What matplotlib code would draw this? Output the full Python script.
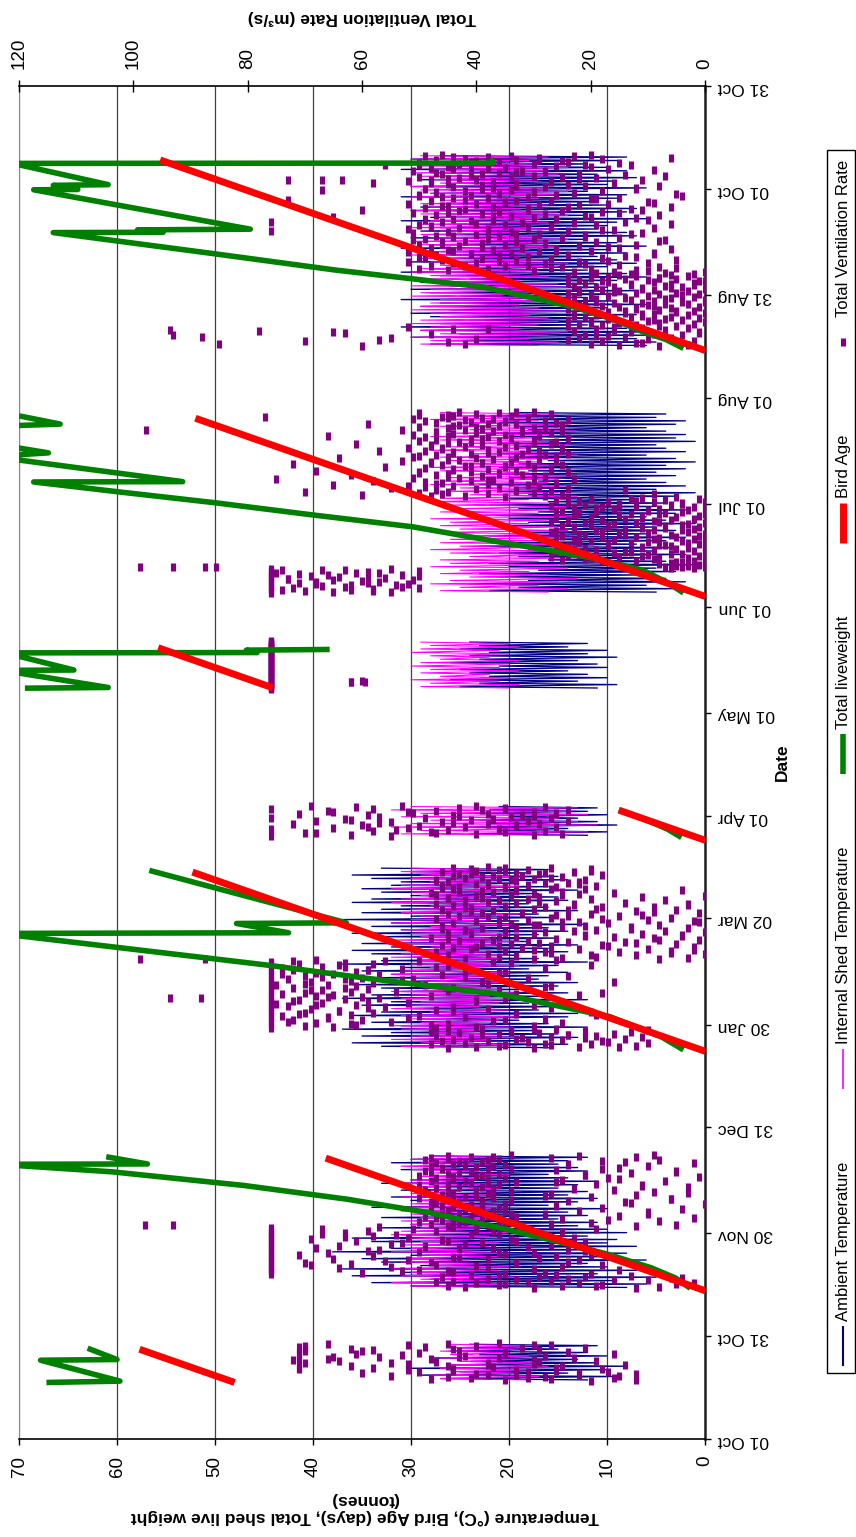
import numpy as np
import matplotlib
matplotlib.use("Agg")
import matplotlib.pyplot as plt
from matplotlib.patches import Rectangle
from matplotlib.lines import Line2D

plt.rcParams['font.family'] = ['Liberation Sans', 'DejaVu Sans']

# day 0 = 01 Oct, day 395 = 31 Oct of the following year
date_ticks = [0, 30, 60, 91, 121, 152, 182, 212, 243, 273, 304, 334, 365, 395]
date_labels = ['01 Oct', '31 Oct', '30 Nov', '31 Dec', '30 Jan', '02 Mar', '01 Apr',
               '01 May', '01 Jun', '01 Jul', '01 Aug', '31 Aug', '01 Oct', '31 Oct']

# first logged day of each flock
flock_start = [17, 44, 114, 176, 219, 247, 319]

# daily min / max temperatures (deg C), one list per flock
ambient_min = [
    [12, 9, 14, 10, 8, 11, 13, 10, 12, 15, 11],
    [8, 6, 9, 5, 11, 7, 10, 12, 6, 9, 8, 11, 7, 10, 9, 12, 8, 10, 13, 11, 15, 12, 14, 10, 16, 13,
     11, 14, 12, 15, 13, 11, 14, 16, 12, 13, 15, 14, 12],
    [16, 14, 18, 13, 15, 17, 12, 16, 19, 14, 13, 17, 15, 18, 12, 16, 14, 19, 15, 13, 17, 16, 14, 18,
     15, 12, 17, 19, 14, 16, 13, 18, 15, 17, 14, 16, 12, 19, 15, 17, 13, 16, 18, 14, 15, 17, 13, 16,
     19, 14, 15, 18, 16],
    [12, 10, 14, 9, 11, 13, 10, 12, 11],
    [11, 9, 13, 10, 12, 14, 10, 11, 13, 9, 12, 10, 14, 12],
    [5, 3, 6, 2, 4, 7, 3, 5, 1, 4, 6, 2, 5, 3, 7, 4, 2, 6, 3, 5, 1, 4, 6, 3, 2, 5, 4, 7, 3, 1, 5, 2,
     4, 6, 3, 5, 2, 4, 1, 3, 6, 2, 4, 5, 1, 3, 2, 4, 6, 3, 2, 5, 4],
    [6, 5, 7, 6, 5, 8, 12, 8, 9, 7, 11, 10, 6, 9, 12, 8, 7, 10, 11, 9, 6, 8, 12, 10, 7, 9, 11, 8,
     10, 6, 9, 12, 7, 8, 11, 10, 9, 6, 12, 8, 7, 10, 11, 9, 8, 12, 6, 10, 9, 7, 11, 8, 10, 12, 9, 8],
]
ambient_max = [
    [27, 29, 25, 30, 26, 24, 28, 23, 26, 25, 24],
    [30, 34, 28, 36, 31, 37, 29, 33, 35, 30, 38, 32, 28, 34, 36, 31, 29, 33, 30, 27, 33, 29, 31,
     34, 28, 30, 32, 27, 31, 29, 33, 30, 28, 26, 31, 29, 32, 30, 28],
    [33, 36, 30, 35, 32, 37, 31, 34, 29, 36, 33, 30, 35, 32, 37, 34, 31, 33, 36, 30, 34, 32, 35,
     31, 37, 33, 30, 34, 36, 32, 35, 29, 33, 36, 31, 34, 32, 37, 30, 35, 33, 31, 36, 34, 30, 33,
     35, 32, 31, 34, 36, 30, 33],
    [24, 21, 25, 22, 23, 20, 24, 22, 21],
    [25, 23, 26, 22, 24, 25, 21, 26, 23, 24, 22, 25, 23, 24],
    [22, 19, 24, 18, 21, 23, 17, 20, 22, 16, 19, 21, 18, 23, 20, 17, 22, 19, 15, 21, 18, 20, 23,
     17, 19, 22, 16, 20, 18, 21, 19, 23, 17, 20, 22, 18, 21, 19, 16, 20, 22, 18, 19, 21, 17, 20,
     23, 18, 19, 21, 20, 22, 19],
    [28, 26, 30, 25, 29, 31, 27, 24, 28, 30, 26, 29, 27, 31, 25, 28, 30, 26, 29, 24, 27, 31, 28,
     25, 30, 26, 29, 27, 31, 28, 24, 30, 26, 29, 27, 25, 31, 28, 26, 30, 29, 27, 24, 31, 28, 26,
     30, 25, 29, 27, 28, 31, 26, 29, 30, 27],
]
internal_min = [
    [18, 17, 19, 18, 16, 17, 19, 18, 20, 19, 18],
    [21, 20, 22, 19, 23, 21, 20, 22, 24, 21, 20, 23, 22, 21, 24, 22, 20, 23, 22, 24, 21, 23, 25,
     22, 21, 24, 23, 22, 25, 21, 23, 24, 22, 20, 23, 25, 22, 24, 21],
    [21, 20, 22, 19, 21, 23, 20, 22, 21, 19, 22, 20, 23, 21, 20, 22, 19, 21, 23, 20, 22, 21, 20,
     23, 19, 22, 21, 20, 22, 23, 21, 19, 22, 20, 21, 23, 20, 22, 21, 19, 23, 21, 20, 22, 21, 23,
     20, 19, 22, 21, 20, 23, 21],
    [14, 12, 16, 11, 13, 15, 12, 14, 13],
    [20, 19, 21, 20, 22, 19, 21, 20, 19, 22, 20, 21, 19, 20],
    [16, 14, 17, 15, 13, 16, 18, 14, 15, 17, 13, 16, 14, 18, 15, 17, 13, 16, 14, 15, 18, 16, 13,
     17, 15, 14, 16, 18, 13, 15, 17, 14, 16, 15, 13, 18, 16, 14, 17, 15, 13, 16, 18, 14, 15, 17,
     16, 13, 15, 14, 17, 16, 15],
    [17, 15, 18, 16, 14, 19, 17, 15, 16, 18, 14, 17, 19, 15, 16, 18, 17, 14, 15, 19, 16, 18, 17,
     15, 14, 16, 19, 17, 18, 15, 16, 14, 17, 19, 15, 18, 16, 17, 14, 15, 19, 16, 18, 17, 15, 14,
     16, 19, 17, 18, 15, 16, 14, 17, 18, 16],
]
internal_max = [
    [27, 28, 26, 27, 26, 25, 27, 26, 27, 26, 26],
    [30, 32, 29, 31, 30, 32, 28, 31, 30, 29, 32, 30, 31, 29, 30, 32, 31, 29, 30, 31, 29, 30, 28,
     31, 30, 29, 31, 30, 28, 29, 31, 30, 29, 28, 30, 31, 29, 30, 28],
    [31, 29, 32, 30, 28, 31, 32, 29, 30, 31, 28, 32, 30, 29, 31, 30, 32, 28, 31, 29, 30, 32, 31,
     28, 30, 29, 32, 31, 30, 28, 31, 32, 29, 30, 31, 28, 32, 30, 29, 31, 30, 28, 32, 31, 29, 30,
     32, 31, 28, 30, 29, 31, 30],
    [31, 29, 32, 30, 28, 31, 29, 32, 30],
    [29, 28, 30, 27, 29, 28, 30, 29, 27, 28, 30, 29, 28, 29],
    [27, 25, 28, 26, 24, 27, 25, 28, 26, 27, 24, 26, 28, 25, 27, 26, 24, 28, 25, 27, 26, 28, 24,
     27, 25, 26, 28, 27, 24, 26, 25, 28, 27, 26, 24, 27, 28, 25, 26, 27, 24, 28, 26, 25, 27, 28,
     26, 24, 27, 25, 28, 26, 27],
    [29, 28, 30, 27, 29, 28, 30, 29, 27, 28, 30, 29, 28, 27, 30, 29, 28, 30, 27, 29, 28, 30, 29,
     27, 28, 29, 30, 28, 27, 29, 30, 28, 29, 27, 30, 29, 28, 27, 29, 30, 28, 29, 27, 30, 28, 29,
     30, 27, 28, 29, 30, 28, 29, 27, 30, 29],
]

# ventilation rate (m3/s), eight readings per day (3-hourly), one string per flock;
# "v*n" means the reading v repeated n times
vent_readings = [
    # flock 1
    "20 35 12 48 27 41 16 31 28 45 15 55 33 22 38 12 40 22 60 31 17 50 26 44 "
    "33 52 18 71 44 26 58 37 71 45 25 62 38 14 52 30 70 38 55 29 47 19 64 71 "
    "72 30 48 66 23 36 57 43 65 42 28 71 53 16 35 61 71 50 35 24 60 43 70 29 "
    "58 44 62 70 32 21 49 71 70 40 30 52 27 45 66 36",
    # flock 2
    "30 12 42 8 25 45 19 36 18 35 5 40 22 2 31 47 27 44 10 33 16 38 24 6 "
    "4 29 46 21 36 13 41 26 "
    "76 35 20 60 28 76 44 53 76 45 15 50 76 30 64 38 76 25 55 40 76 18 47 69 "
    "76 62 33 70 48 76 24 56 76 22 52 38 76 65 43 29 76 44 26 58 76 20 71 35 "
    "76 36 66 30 76 50 21 59 76 57 24 43 76 68 37 49 76 31 49 64 76 27 55 42 "
    "76 53 39 21 76 61 45 33 76 46 69 34 76 23 52 63 76 28 58 41 76 54 36 67 "
    "76 63 37 25 76 47 59 40 76 19 51 67 76 32 44 57 "
    "45 12 38 40 5 48 27 43 35 20 42 50 8 36 46 17 44 25 39 47 2 41 33 49 "
    "38 15 46 43 28 34 10 45 49 10 40 37 22 45 35 48 42 4 48 36 18 44 39 26 "
    "46 26 39 41 0 35 47 13 48 14 43 39 24 47 34 6 44 6 37 50 20 42 46 28 "
    "40 12 46 38 27 44 49 3 45 9 40 34 16 49 37 23 37 23 47 43 3 39 45 11 "
    "50 11 36 45 19 41 38 26 33 7 48 42 25 38 44 15 47 17 35 44 1 50 40 21 "
    "39 21 45 36 13 43 48 5 41 5 49 38 26 34 46 18 46 15 40 48 10 37 42 24 "
    "35 24 44 42 2 47 39 14 43 18 38 49 8 36 45 27 48 12 41 37 22 45 34 9",
    # flock 3
    "30 45 15 22 40 12 36 27 35 48 20 28 10 42 31 17 38 18 46 25 44 14 33 21 "
    "32 41 11 27 47 19 39 24 24 36 16 43 29 13 48 34 45 21 34 10 39 26 30 47 "
    "76 65 40 70 30 76 61 48 62 45 76 25 68 55 73 37 76 35 72 60 76 28 66 52 "
    "66 42 76 74 50 62 19 71 76 33 58 70 76 20 64 44 64 47 76 38 69 76 59 27 "
    "56 44 76 73 30 61 68 75 76 52 67 25 76 59 40 72 71 40 76 63 35 76 57 66 "
    "60 48 68 76 22 65 74 33 76 70 18 62 54 76 45 69 67 36 76 59 44 72 63 28 "
    "76 61 27 75 49 66 38 70 58 76 39 69 16 76 62 53 76 63 51 73 31 60 67 42 "
    "70 24 76 57 46 65 74 36 76 68 35 61 76 42 59 72 59 76 53 74 28 67 63 47 "
    "76 45 64 20 71 76 58 34 63 37 76 56 72 50 68 26 "
    "30 8 42 25 3 36 19 47 33 12 45 20 0 38 27 6 28 15 47 35 6 30 2 41 "
    "22 10 44 32 2 40 17 36 27 18 46 34 5 29 12 39 24 14 43 31 1 37 8 45 "
    "26 9 48 36 16 33 4 21 21 4 41 30 11 45 35 0 28 7 35 23 19 42 46 13 "
    "33 3 39 25 13 46 21 30 29 8 36 34 17 44 25 1 22 2 40 31 10 47 36 18 "
    "27 6 38 35 15 43 24 11 26 20 45 32 1 39 41 9 37 12 24 46 5 30 19 42 "
    "41 18 28 9 35 44 23 3 23 3 47 33 14 38 29 42 36 26 42 7 31 20 45 39 "
    "45 11 29 40 0 34 25 47 30 22 48 16 37 25 43 33 39 4 33 44 21 27 46 35 "
    "26 43 35 19 46 31 38 22 40 24 38 28 45 22 33 47 34 47 21 36 30 42 27 39 "
    "25 39 44 32 18 37 41 29 43 28 33 46 23 40 35 20 31 36 20 41 27 35 44 38",
    # flock 4
    "76 55 30 62 40 25 47 68 70 48 35 58 28 45 36 54 76 36 52 65 42 26 59 33 "
    "50 33 60 72 38 29 44 57 55 46 31 68 24 41 62 37 63 27 49 76 34 57 43 30 "
    "44 59 32 71 38 26 51 65 52 30 66 47 24 39 58 35 76 43 35 61 28 53 40 69",
    # flock 5
    "76*16 62 60 76*94",
    # flock 6
    "76 65 55 76 70 58 62 74 76 58 50 76 72 63 53 67 76 62 54 76 52 68 71 59 "
    "76 68 57 76 60 51 65 73 76 73 56 76 64 59 50 69 76 53 66 76 71 61 57 75 "
    "76 59 50 76 67 74 63 55 76 6 2 4 0 7 3 5 5 1 8 3 0 6 2 4 "
    "5 18 2 12 25 0 9 21 8 20 3 15 27 1 11 24 10 22 4 6 16 0 26 13 "
    "14 26 2 9 19 5 23 0 3 21 0 11 24 6 17 8 7 17 1 13 27 3 22 10 "
    "4 20 0 16 23 2 9 26 8 18 5 12 25 1 21 14 6 22 0 10 15 3 27 18 "
    "19 26 4 9 14 2 23 7 11 23 1 17 7 25 4 20 3 16 21 0 12 27 8 24 "
    "9 24 6 18 2 14 26 11 20 5 26 11 1 15 23 8 13 0 22 7 19 4 26 10 "
    "25 10 3 16 8 23 0 19 2 18 12 27 6 21 15 4 15 4 24 9 0 17 22 12 "
    "7 26 13 1 20 11 24 5 "
    "35 48 28 42 60 25 9 46 38 50 30 45 70 27 33 14 33 47 24 40 55 36 49 29 "
    "29 52 44 31 65 38 26 47 46 26 49 34 58 41 30 38 37 75 23 43 51 30 45 28 "
    "28 39 62 47 32 45 36 50 36 24 50 41 68 33 44 27 27 44 38 49 30 56 35 41 "
    "35 42 25 46 72 31 48 39 39 48 34 26 53 43 29 45 37 29 64 40 45 33 51 26 "
    "50 28 47 32 41 24 38 44 44 36 57 29 49 38 25 46 31 46 25 52 35 42 48 33 "
    "48 33 39 27 61 45 30 41 26 43 50 36 30 47 39 24 41 34 24 49 38 66 45 29 "
    "35 51 29 44 27 40 32 47 47 25 37 53 32 42 28 39 30 45 40 28 50 36 44 25 "
    "43 38 59 33 47 26 41 35 28 49 35 42 24 51 37 45 39 31 46 77 34 44 27 50 "
    "45 27 40 36 50 30 43 33",
    # flock 7
    "8 60 15 3 85 20 42 11 12 45 5 70 18 2 24 57 10 40 22 6 55 14 88 19 "
    "17 93 4 21 48 9 63 1 1 65 13 23 78 7 16 44 19 38 3 11 52 16 24 8 "
    "5 18 12 2 22 8 15 20 15 0 20 10 24 4 9 17 7 16 1 13 21 6 23 11 "
    "3 19 11 9 23 0 14 5 17 5 14 2 20 8 24 12 12 24 6 15 1 18 9 21 "
    "10 22 3 7 16 11 0 19 4 21 9 13 0 19 24 7 14 6 23 2 17 10 20 4 "
    "20 8 1 24 12 5 16 22 3 15 22 9 18 0 11 6 11 4 19 16 7 23 2 13 "
    "6 21 13 2 24 9 17 0 18 1 10 22 5 14 20 8 8 17 24 3 12 20 6 15 "
    "2 13 7 19 0 16 23 10 "
    "30 45 12 38 20 50 5 27 25 8 42 35 48 15 31 21 28 40 10 44 22 52 36 17 "
    "33 5 46 27 39 18 49 12 50 31 14 36 47 24 9 41 41 9 34 29 52 20 44 26 "
    "45 37 6 26 48 32 15 39 17 43 22 50 35 12 28 46 39 28 46 19 33 42 8 51 "
    "7 49 30 38 25 15 44 21 44 36 47 21 40 29 13 33 11 51 34 45 24 76 38 18 "
    "16 38 52 31 9 43 27 48 27 48 35 19 50 40 6 32 23 46 32 14 41 37 49 10 "
    "26 49 44 12 30 65 20 37 34 21 47 8 39 28 45 15 51 18 36 43 25 60 31 11 "
    "13 42 31 49 6 37 24 46 45 29 22 40 52 17 35 9 35 10 48 27 33 73 42 19 "
    "20 44 38 15 46 31 4 50 41 26 50 5 36 23 47 30 30 47 18 42 67 34 12 39 "
    "49 12 37 28 44 21 33 8 24 39 45 33 58 16 48 27 37 52 27 48 11 40 22 45 "
    "43 19 34 25 50 30 7 41 14 46 39 22 36 47 28 33 32 28 51 41 9 44 17 38 "
    "48 35 20 45 26 38 50 13 21 43 30 50 15 36 41 24 40 25 47 33 42 18 29 6 "
    "29 38 44 23 49 34 20 46",
]

# isolated ventilation readings outside the main clouds
vent_extra_day = [62.5, 62.5, 128.8, 128.8, 140.0, 140.0, 221.0, 221.0, 254.6, 254.6, 254.6,
                  254.6, 294.6, 323.8, 355.3, 367.6, 367.6, 367.6, 372.0]
vent_extra = [98, 93, 93.6, 88.2, 98.8, 87.5, 62, 59.5, 98.8, 93, 87.5, 85.5, 97.8, 93.6, 76,
              73, 67, 63.5, 56]

# bird age (days): first and last logged point of each flock
age_day = [(16.5, 26.2), (43.3, 82.0), (113.2, 165.5), (174.8, 183.6), (219.3, 231.0),
           (246.0, 298.0), (317.8, 373.4)]
age_value = [(48.0, 57.7), (0.0, 38.7), (0.0, 52.3), (0.0, 8.8), (44.1, 55.8), (0.0, 52.0),
             (0.0, 55.6)]

# total shed live weight (tonnes), drops are thinning / depopulation
liveweight_day = [
    [16.5, 16.9, 23.0, 23.2, 26.5],
    [44.0, 47, 50, 54, 58, 62, 66, 70, 74, 78, 79.8, 80.2, 80.3, 82.4],
    [113.6, 117.5, 123.3, 129.6, 134.5, 138.4, 146.9, 147.6, 147.8, 150.5, 150.7, 166.0],
    [175.6, 178, 181, 183.6],
    [219.2, 219.4, 224.4, 224.5, 229.5, 229.6, 230.3, 230.5],
    [247.0, 250.0, 253.7, 257.5, 261.6, 266.3, 269.8, 273.3, 276.5, 279.4, 279.5, 285.8, 287.0,
     287.9, 289.3, 290.0, 295.8, 296.3, 298.7],
    [318.4, 321, 323.3, 327, 330.6, 336.4, 341.3, 346, 352.2, 352.3, 353.0, 353.2, 364.7, 364.8,
     366.0, 366.2, 372.0, 372.4, 372.5, 374.0],
]
liveweight = [
    [67.2, 59.7, 67.8, 60.0, 63.0],
    [1.5, 3.0, 5.5, 10, 15.5, 21.5, 28, 36.5, 47, 60.5, 70, 71.5, 56.9, 61.1],
    [2.2, 4.5, 9.7, 20.4, 34.5, 44.8, 70, 72, 42.5, 47.8, 36.6, 56.7],
    [2.4, 3.8, 6.2, 8.8],
    [69.4, 60.9, 71.7, 64.4, 71.4, 45.7, 46.8, 38.3],
    [2.2, 3.8, 6.4, 12.0, 20.4, 29.8, 40.1, 49.9, 59.8, 68.5, 53.3, 70, 72, 67, 70, 71, 71, 65.8,
     70],
    [2.2, 4.0, 6.4, 9.5, 13.5, 22.8, 37.8, 50, 66.5, 55.3, 57.9, 46.4, 68.5, 64.0, 66.5, 60.9, 70,
     72, 21.6, 21.8],
]

c_amb, c_int, c_lw, c_age, c_vent = '#000080', '#FF00FF', '#008000', '#FF0000', '#800080'
W, H = 856, 1537
PER_DAY = 8


def fx(x):
    return x / W


def fy(y):
    return 1 - y / H


def join(parts):
    # concatenate flocks with NaN breaks between them
    out = []
    for p in parts:
        out.extend(list(p) + [np.nan])
    return np.array(out, dtype=float)


def parse_readings(s):
    vals = []
    for tok in s.split():
        if '*' in tok:
            v, n = tok.split('*')
            vals += [float(v)] * int(n)
        else:
            vals.append(float(tok))
    return np.array(vals)


def daily_swing(lows, highs):
    t, v = [], []
    for start, lo, hi in zip(flock_start, lows, highs):
        tt, vv = [], []
        for i, (a, b) in enumerate(zip(lo, hi)):
            tt += [start + i + 0.25, start + i + 0.65]
            vv += [a, b]
        t.append(tt)
        v.append(vv)
    return join(t), join(v)


fig = plt.figure(figsize=(W / 100, H / 100), dpi=100)
ax = fig.add_axes([fx(19), fy(1439), 686 / W, 1353 / H])
axv = ax.twiny()

# temperatures
t_amb, v_amb = daily_swing(ambient_min, ambient_max)
t_int, v_int = daily_swing(internal_min, internal_max)
ax.plot(v_amb, t_amb, color=c_amb, lw=0.95, zorder=2)
ax.plot(v_int, t_int, color=c_int, lw=0.75, zorder=3)

# ventilation on the secondary scale
vt, vv = [], []
for start, s in zip(flock_start, vent_readings):
    vals = parse_readings(s)
    vt.append(start + (np.arange(len(vals)) + 0.5) / PER_DAY)
    vv.append(vals)
vt = np.concatenate(vt + [np.array(vent_extra_day)])
vv = np.concatenate(vv + [np.array(vent_extra)])
axv.plot(vv, vt, ls='none', marker='|', ms=6, mew=3.7, color=c_vent, zorder=2)

# liveweight and bird age drawn above the ventilation dots
axv.plot(join(liveweight), join(liveweight_day), color=c_lw, lw=4,
         transform=ax.transData, zorder=3, solid_capstyle='butt')
axv.plot(join(age_value), join(age_day), color=c_age, lw=5,
         transform=ax.transData, zorder=4, solid_capstyle='butt')

# axes setup
ax.set_xlim(70, 0)
ax.set_ylim(0, 395)
axv.set_xlim(120, 0)
axv.set_ylim(0, 395)

ax.set_xticks(range(0, 71, 10))
ax.tick_params(axis='x', direction='out', length=4.5, width=1, labelsize=13.5,
               labelrotation=90, pad=7.5)
ax.yaxis.tick_right()
ax.set_yticks(date_ticks)
ax.set_yticklabels(date_labels, rotation=180)
ax.tick_params(axis='y', direction='out', length=4.5, width=1, labelsize=12.5, pad=5)
ax.grid(axis='x', color='#404040', lw=0.9)
ax.set_axisbelow(True)

axv.set_xticks(range(0, 121, 20))
axv.tick_params(axis='x', direction='inout', length=9, width=1, labelsize=13.5,
                labelrotation=90, pad=8)

ax.spines['left'].set_color('#8c8c8c')
ax.spines['right'].set_color('#202020')
ax.spines['right'].set_linewidth(1.8)
ax.spines['bottom'].set_linewidth(1.2)
ax.spines['top'].set_visible(False)
for s in ('left', 'right', 'bottom'):
    axv.spines[s].set_visible(False)
axv.spines['top'].set_linewidth(1.2)

# axis titles
fig.text(fx(362), fy(17), 'Total Ventilation Rate (m³/s)', rotation=180, ha='center',
         va='center', fontsize=12.5, fontweight='bold')
fig.text(fx(365), fy(1508), 'Temperature (°C), Bird Age (days), Total shed live weight\n(tonnes)',
         rotation=180, ha='center', va='center', multialignment='center', fontsize=12.5,
         fontweight='bold')
fig.text(fx(782), fy(762), 'Date', rotation=90, ha='center', va='center', fontsize=12.5,
         fontweight='bold')

# legend, laid out bottom-to-top along the right edge
fig.add_artist(Rectangle((fx(827), fy(1373)), 28 / W, (1373 - 150) / H,
                         transform=fig.transFigure, fill=False, ec='black', lw=1))
legend_items = [('Ambient Temperature', dict(color=c_amb, lw=1.5)),
                ('Internal Shed Temperature', dict(color=c_int, lw=1.2)),
                ('Total liveweight', dict(color=c_lw, lw=4)),
                ('Bird Age', dict(color=c_age, lw=5)),
                ('Total Ventilation Rate', None)]
renderer = fig.canvas.get_renderer()
texts = [fig.text(0, 0, name, rotation=90, ha='center', va='bottom', fontsize=12)
         for name, _ in legend_items]
lengths = [t.get_window_extent(renderer).height for t in texts]
hl, gap_in = 40, 5
bottom, top = 1366, 160
gap = (bottom - top - sum(hl + gap_in + L for L in lengths)) / (len(texts) - 1)
cur = bottom
for (name, style), t, L in zip(legend_items, texts, lengths):
    if style is None:
        fig.add_artist(Line2D([fx(843)], [fy(cur - hl / 2)], transform=fig.transFigure,
                              ls='none', marker='|', ms=6, mew=3.7, color=c_vent))
    else:
        fig.add_artist(Line2D([fx(843), fx(843)], [fy(cur), fy(cur - hl)],
                              transform=fig.transFigure, solid_capstyle='butt', **style))
    t.set_position((fx(843.5), fy(cur - hl - gap_in)))
    cur -= hl + gap_in + L + gap

fig.savefig('out.png', dpi=100)
